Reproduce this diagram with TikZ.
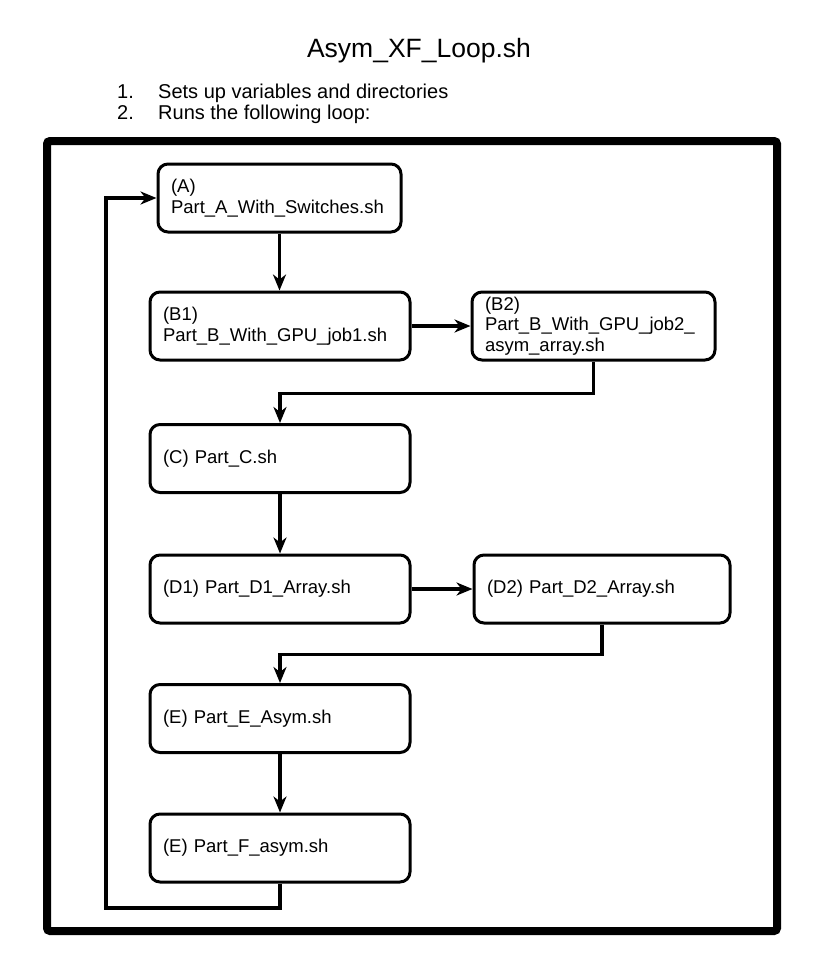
\documentclass[tikz,border=0pt]{standalone}
\usepackage{fontspec}
\setmainfont{Liberation Sans}
\usetikzlibrary{arrows.meta}

\begin{document}
\begin{tikzpicture}[x=1pt,y=-1pt,
    part/.style={draw, line width=3pt, rounded corners=10pt, align=left,
        inner xsep=13pt, inner ysep=0pt, minimum height=68pt, text width=234pt,
        font=\fontsize{18.5}{20.5}\selectfont},
    flow/.style={line width=3.2pt, -{Stealth[length=16pt,width=13pt,inset=5pt]}},
    plain/.style={inner sep=0pt, anchor=base west, font=\fontsize{20}{20}\selectfont}]
    \useasboundingbox (0,0) rectangle (815,958);
    \draw[line width=8pt, rounded corners=3pt] (47,141) rectangle (777,931); % loop frame

    \node[inner sep=0pt, anchor=base, font=\fontsize{26.5}{30}\selectfont] (title) at (419,57) {Asym\_XF\_Loop.sh};
    \node[plain] (num1) at (117,99) {1.};
    \node[plain] (step1) at (158,99) {Sets up variables and directories};
    \node[plain] (num2) at (117,119) {2.};
    \node[plain] (step2) at (158,119) {Runs the following loop:};

    \node[part, text width=217pt] (A) at (279.5,198) {(A)\\Part\_A\_With\_Switches.sh};
    \node[part] (B1) at (280,326) {(B1)\\Part\_B\_With\_GPU\_job1.sh};
    \node[part, text width=217pt] (B2) at (593.5,326) {(B2)\\Part\_B\_With\_GPU\_job2\_\\asym\_array.sh};
    \node[part] (C) at (280,458.5) {(C) Part\_C.sh};
    \node[part] (D1) at (280,589) {(D1) Part\_D1\_Array.sh};
    \node[part, text width=230pt] (D2) at (602,589) {(D2) Part\_D2\_Array.sh};
    \node[part] (E) at (280,718.5) {(E) Part\_E\_Asym.sh};
    \node[part] (F) at (280,848) {(E) Part\_F\_asym.sh};

    \draw[flow] (A.south) -- (A.south |- B1.north);
    \draw[flow] (B1) -- (B2);
    \draw[flow] (B2.south) -- ++(0,32) -| (C.north);
    \draw[flow] (C) -- (D1);
    \draw[flow] (D1) -- (D2);
    \draw[flow] (D2.south) -- ++(0,30) -| (E.north);
    \draw[flow] (E) -- (F);

    \coordinate (back) at (106,908); % back to the top of the loop
    \draw[flow] (F.south) |- (back) |- (A.west);
\end{tikzpicture}
\end{document}
